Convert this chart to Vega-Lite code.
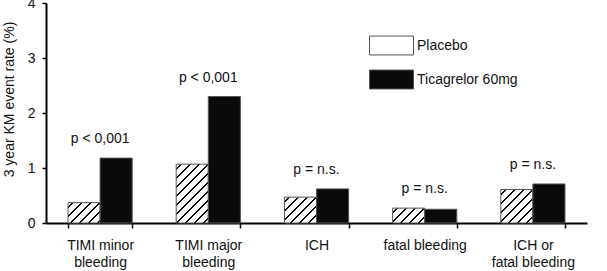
{
  "$schema": "https://vega.github.io/schema/vega-lite/v6.json",
  "autosize": "none",
  "width": 541,
  "height": 220,
  "padding": {"left": 46, "top": 3, "right": 20, "bottom": 48},
  "background": "white",
  "config": {
    "font": "Liberation Sans",
    "view": {"stroke": null},
    "axis": {"labelFont": "Liberation Sans", "titleFont": "Liberation Sans", "labelColor": "#111", "titleColor": "#111", "domainColor": "#000", "tickColor": "#000", "grid": false}
  },
  "data": {
    "values": [
      {"cat": "TIMI minor\nbleeding", "group": "Placebo", "value": 0.37, "p": "p < 0,001"},
      {"cat": "TIMI minor\nbleeding", "group": "Ticagrelor 60mg", "value": 1.18, "p": "p < 0,001"},
      {"cat": "TIMI major\nbleeding", "group": "Placebo", "value": 1.07, "p": "p < 0,001"},
      {"cat": "TIMI major\nbleeding", "group": "Ticagrelor 60mg", "value": 2.30, "p": "p < 0,001"},
      {"cat": "ICH", "group": "Placebo", "value": 0.47, "p": "p = n.s."},
      {"cat": "ICH", "group": "Ticagrelor 60mg", "value": 0.62, "p": "p = n.s."},
      {"cat": "fatal bleeding", "group": "Placebo", "value": 0.27, "p": "p = n.s."},
      {"cat": "fatal bleeding", "group": "Ticagrelor 60mg", "value": 0.25, "p": "p = n.s."},
      {"cat": "ICH or\nfatal bleeding", "group": "Placebo", "value": 0.61, "p": "p = n.s."},
      {"cat": "ICH or\nfatal bleeding", "group": "Ticagrelor 60mg", "value": 0.71, "p": "p = n.s."}
    ]
  },
  "encoding": {
    "x": {
      "field": "cat", "type": "nominal", "sort": null,
      "scale": {"paddingInner": 0.407, "paddingOuter": 0.2035},
      "axis": {
        "title": null, "labelAngle": 0, "labelFontSize": 14, "labelLineHeight": 17,
        "labelExpr": "isString(datum.value) ? split(datum.value, '\\n') : ''", "labelBaseline": "top",
        "domainWidth": 2, "tickBand": "extent", "tickSize": 5, "tickWidth": 1.5, "labelPadding": 10
      }
    }
  },
  "layer": [
    {
      "mark": {"type": "bar", "stroke": "#555", "strokeWidth": 1},
      "encoding": {
        "xOffset": {"field": "group", "type": "nominal", "scale": {"paddingInner": 0, "paddingOuter": 0}},
        "y": {
          "field": "value", "type": "quantitative",
          "scale": {"domain": [0, 4], "nice": false},
          "axis": {
            "title": "3 year KM event rate (%)", "titleFontSize": 14, "titleFontWeight": "normal",
            "values": [0, 1, 2, 3, 4], "format": "d", "labelFontSize": 14, "domainWidth": 2, "tickSize": 4, "tickWidth": 1.5,
            "labelPadding": 7, "titleX": -30, "titleY": 96
          }
        },
        "fill": {
          "field": "group", "type": "nominal",
          "scale": {"domain": ["Placebo", "Ticagrelor 60mg"], "range": ["#ffffff", "#0a0a0a"]},
          "legend": {
            "title": null, "orient": "none", "legendX": 323, "legendY": 20,
            "symbolType": "M-1,-0.43H1V0.43H-1Z", "symbolSize": 1936,
            "symbolStrokeColor": "#555", "symbolStrokeWidth": 1,
            "labelFontSize": 14, "labelColor": "#111", "labelOffset": 3, "rowPadding": -28,
            "encode": {"symbols": {"update": {
              "stroke": {"value": "#555"},
              "strokeWidth": {"value": 1}
            }}}
          },
          "condition": [
            {"test": "datum.group === 'Placebo' && datum.cat === 'TIMI minor\\nbleeding'", "value":
              {"gradient": "linear", "x1": 0, "y1": 0, "x2": 2.200, "y2": 1.395, "stops": [
                {"offset": 0, "color": "#fff"},
                {"offset": 0.0404, "color": "#fff"}, {"offset": 0.0404, "color": "#000"}, {"offset": 0.0606, "color": "#000"}, {"offset": 0.0606, "color": "#fff"},
                {"offset": 0.1313, "color": "#fff"}, {"offset": 0.1313, "color": "#000"}, {"offset": 0.1515, "color": "#000"}, {"offset": 0.1515, "color": "#fff"},
                {"offset": 0.2222, "color": "#fff"}, {"offset": 0.2222, "color": "#000"}, {"offset": 0.2424, "color": "#000"}, {"offset": 0.2424, "color": "#fff"},
                {"offset": 0.3131, "color": "#fff"}, {"offset": 0.3131, "color": "#000"}, {"offset": 0.3333, "color": "#000"}, {"offset": 0.3333, "color": "#fff"},
                {"offset": 0.4040, "color": "#fff"}, {"offset": 0.4040, "color": "#000"}, {"offset": 0.4242, "color": "#000"}, {"offset": 0.4242, "color": "#fff"},
                {"offset": 0.4949, "color": "#fff"}, {"offset": 0.4949, "color": "#000"}, {"offset": 0.5152, "color": "#000"}, {"offset": 0.5152, "color": "#fff"},
                {"offset": 0.5859, "color": "#fff"}, {"offset": 0.5859, "color": "#000"}, {"offset": 0.6061, "color": "#000"}, {"offset": 0.6061, "color": "#fff"},
                {"offset": 0.6768, "color": "#fff"}, {"offset": 0.6768, "color": "#000"}, {"offset": 0.6970, "color": "#000"}, {"offset": 0.6970, "color": "#fff"},
                {"offset": 0.7677, "color": "#fff"}, {"offset": 0.7677, "color": "#000"}, {"offset": 0.7879, "color": "#000"}, {"offset": 0.7879, "color": "#fff"},
                {"offset": 0.8586, "color": "#fff"}, {"offset": 0.8586, "color": "#000"}, {"offset": 0.8788, "color": "#000"}, {"offset": 0.8788, "color": "#fff"},
                {"offset": 0.9495, "color": "#fff"}, {"offset": 0.9495, "color": "#000"}, {"offset": 0.9697, "color": "#000"}, {"offset": 0.9697, "color": "#fff"},
                {"offset": 1, "color": "#fff"}
              ]}
            },
            {"test": "datum.group === 'Placebo' && datum.cat === 'TIMI major\\nbleeding'", "value":
              {"gradient": "linear", "x1": 0, "y1": 0, "x2": 0.7072, "y2": 1.2966, "stops": [
                {"offset": 0, "color": "#fff"},
                {"offset": 0.0404, "color": "#fff"}, {"offset": 0.0404, "color": "#000"}, {"offset": 0.0606, "color": "#000"}, {"offset": 0.0606, "color": "#fff"},
                {"offset": 0.1313, "color": "#fff"}, {"offset": 0.1313, "color": "#000"}, {"offset": 0.1515, "color": "#000"}, {"offset": 0.1515, "color": "#fff"},
                {"offset": 0.2222, "color": "#fff"}, {"offset": 0.2222, "color": "#000"}, {"offset": 0.2424, "color": "#000"}, {"offset": 0.2424, "color": "#fff"},
                {"offset": 0.3131, "color": "#fff"}, {"offset": 0.3131, "color": "#000"}, {"offset": 0.3333, "color": "#000"}, {"offset": 0.3333, "color": "#fff"},
                {"offset": 0.4040, "color": "#fff"}, {"offset": 0.4040, "color": "#000"}, {"offset": 0.4242, "color": "#000"}, {"offset": 0.4242, "color": "#fff"},
                {"offset": 0.4949, "color": "#fff"}, {"offset": 0.4949, "color": "#000"}, {"offset": 0.5152, "color": "#000"}, {"offset": 0.5152, "color": "#fff"},
                {"offset": 0.5859, "color": "#fff"}, {"offset": 0.5859, "color": "#000"}, {"offset": 0.6061, "color": "#000"}, {"offset": 0.6061, "color": "#fff"},
                {"offset": 0.6768, "color": "#fff"}, {"offset": 0.6768, "color": "#000"}, {"offset": 0.6970, "color": "#000"}, {"offset": 0.6970, "color": "#fff"},
                {"offset": 0.7677, "color": "#fff"}, {"offset": 0.7677, "color": "#000"}, {"offset": 0.7879, "color": "#000"}, {"offset": 0.7879, "color": "#fff"},
                {"offset": 0.8586, "color": "#fff"}, {"offset": 0.8586, "color": "#000"}, {"offset": 0.8788, "color": "#000"}, {"offset": 0.8788, "color": "#fff"},
                {"offset": 0.9495, "color": "#fff"}, {"offset": 0.9495, "color": "#000"}, {"offset": 0.9697, "color": "#000"}, {"offset": 0.9697, "color": "#fff"},
                {"offset": 1, "color": "#fff"}
              ]}
            },
            {"test": "datum.group === 'Placebo' && datum.cat === 'ICH'", "value":
              {"gradient": "linear", "x1": 0, "y1": 0, "x2": 1.871, "y2": 1.5066, "stops": [
                {"offset": 0, "color": "#fff"},
                {"offset": 0.0404, "color": "#fff"}, {"offset": 0.0404, "color": "#000"}, {"offset": 0.0606, "color": "#000"}, {"offset": 0.0606, "color": "#fff"},
                {"offset": 0.1313, "color": "#fff"}, {"offset": 0.1313, "color": "#000"}, {"offset": 0.1515, "color": "#000"}, {"offset": 0.1515, "color": "#fff"},
                {"offset": 0.2222, "color": "#fff"}, {"offset": 0.2222, "color": "#000"}, {"offset": 0.2424, "color": "#000"}, {"offset": 0.2424, "color": "#fff"},
                {"offset": 0.3131, "color": "#fff"}, {"offset": 0.3131, "color": "#000"}, {"offset": 0.3333, "color": "#000"}, {"offset": 0.3333, "color": "#fff"},
                {"offset": 0.4040, "color": "#fff"}, {"offset": 0.4040, "color": "#000"}, {"offset": 0.4242, "color": "#000"}, {"offset": 0.4242, "color": "#fff"},
                {"offset": 0.4949, "color": "#fff"}, {"offset": 0.4949, "color": "#000"}, {"offset": 0.5152, "color": "#000"}, {"offset": 0.5152, "color": "#fff"},
                {"offset": 0.5859, "color": "#fff"}, {"offset": 0.5859, "color": "#000"}, {"offset": 0.6061, "color": "#000"}, {"offset": 0.6061, "color": "#fff"},
                {"offset": 0.6768, "color": "#fff"}, {"offset": 0.6768, "color": "#000"}, {"offset": 0.6970, "color": "#000"}, {"offset": 0.6970, "color": "#fff"},
                {"offset": 0.7677, "color": "#fff"}, {"offset": 0.7677, "color": "#000"}, {"offset": 0.7879, "color": "#000"}, {"offset": 0.7879, "color": "#fff"},
                {"offset": 0.8586, "color": "#fff"}, {"offset": 0.8586, "color": "#000"}, {"offset": 0.8788, "color": "#000"}, {"offset": 0.8788, "color": "#fff"},
                {"offset": 0.9495, "color": "#fff"}, {"offset": 0.9495, "color": "#000"}, {"offset": 0.9697, "color": "#000"}, {"offset": 0.9697, "color": "#fff"},
                {"offset": 1, "color": "#fff"}
              ]}
            },
            {"test": "datum.group === 'Placebo' && datum.cat === 'fatal bleeding'", "value":
              {"gradient": "linear", "x1": 0, "y1": 0, "x2": 2.5405, "y2": 1.1753, "stops": [
                {"offset": 0, "color": "#fff"},
                {"offset": 0.0404, "color": "#fff"}, {"offset": 0.0404, "color": "#000"}, {"offset": 0.0606, "color": "#000"}, {"offset": 0.0606, "color": "#fff"},
                {"offset": 0.1313, "color": "#fff"}, {"offset": 0.1313, "color": "#000"}, {"offset": 0.1515, "color": "#000"}, {"offset": 0.1515, "color": "#fff"},
                {"offset": 0.2222, "color": "#fff"}, {"offset": 0.2222, "color": "#000"}, {"offset": 0.2424, "color": "#000"}, {"offset": 0.2424, "color": "#fff"},
                {"offset": 0.3131, "color": "#fff"}, {"offset": 0.3131, "color": "#000"}, {"offset": 0.3333, "color": "#000"}, {"offset": 0.3333, "color": "#fff"},
                {"offset": 0.4040, "color": "#fff"}, {"offset": 0.4040, "color": "#000"}, {"offset": 0.4242, "color": "#000"}, {"offset": 0.4242, "color": "#fff"},
                {"offset": 0.4949, "color": "#fff"}, {"offset": 0.4949, "color": "#000"}, {"offset": 0.5152, "color": "#000"}, {"offset": 0.5152, "color": "#fff"},
                {"offset": 0.5859, "color": "#fff"}, {"offset": 0.5859, "color": "#000"}, {"offset": 0.6061, "color": "#000"}, {"offset": 0.6061, "color": "#fff"},
                {"offset": 0.6768, "color": "#fff"}, {"offset": 0.6768, "color": "#000"}, {"offset": 0.6970, "color": "#000"}, {"offset": 0.6970, "color": "#fff"},
                {"offset": 0.7677, "color": "#fff"}, {"offset": 0.7677, "color": "#000"}, {"offset": 0.7879, "color": "#000"}, {"offset": 0.7879, "color": "#fff"},
                {"offset": 0.8586, "color": "#fff"}, {"offset": 0.8586, "color": "#000"}, {"offset": 0.8788, "color": "#000"}, {"offset": 0.8788, "color": "#fff"},
                {"offset": 0.9495, "color": "#fff"}, {"offset": 0.9495, "color": "#000"}, {"offset": 0.9697, "color": "#000"}, {"offset": 0.9697, "color": "#fff"},
                {"offset": 1, "color": "#fff"}
              ]}
            },
            {"test": "datum.group === 'Placebo' && datum.cat === 'ICH or\\nfatal bleeding'", "value":
              {"gradient": "linear", "x1": 0, "y1": 0, "x2": 1.474, "y2": 1.5405, "stops": [
                {"offset": 0, "color": "#fff"},
                {"offset": 0.0404, "color": "#fff"}, {"offset": 0.0404, "color": "#000"}, {"offset": 0.0606, "color": "#000"}, {"offset": 0.0606, "color": "#fff"},
                {"offset": 0.1313, "color": "#fff"}, {"offset": 0.1313, "color": "#000"}, {"offset": 0.1515, "color": "#000"}, {"offset": 0.1515, "color": "#fff"},
                {"offset": 0.2222, "color": "#fff"}, {"offset": 0.2222, "color": "#000"}, {"offset": 0.2424, "color": "#000"}, {"offset": 0.2424, "color": "#fff"},
                {"offset": 0.3131, "color": "#fff"}, {"offset": 0.3131, "color": "#000"}, {"offset": 0.3333, "color": "#000"}, {"offset": 0.3333, "color": "#fff"},
                {"offset": 0.4040, "color": "#fff"}, {"offset": 0.4040, "color": "#000"}, {"offset": 0.4242, "color": "#000"}, {"offset": 0.4242, "color": "#fff"},
                {"offset": 0.4949, "color": "#fff"}, {"offset": 0.4949, "color": "#000"}, {"offset": 0.5152, "color": "#000"}, {"offset": 0.5152, "color": "#fff"},
                {"offset": 0.5859, "color": "#fff"}, {"offset": 0.5859, "color": "#000"}, {"offset": 0.6061, "color": "#000"}, {"offset": 0.6061, "color": "#fff"},
                {"offset": 0.6768, "color": "#fff"}, {"offset": 0.6768, "color": "#000"}, {"offset": 0.6970, "color": "#000"}, {"offset": 0.6970, "color": "#fff"},
                {"offset": 0.7677, "color": "#fff"}, {"offset": 0.7677, "color": "#000"}, {"offset": 0.7879, "color": "#000"}, {"offset": 0.7879, "color": "#fff"},
                {"offset": 0.8586, "color": "#fff"}, {"offset": 0.8586, "color": "#000"}, {"offset": 0.8788, "color": "#000"}, {"offset": 0.8788, "color": "#fff"},
                {"offset": 0.9495, "color": "#fff"}, {"offset": 0.9495, "color": "#000"}, {"offset": 0.9697, "color": "#000"}, {"offset": 0.9697, "color": "#fff"},
                {"offset": 1, "color": "#fff"}
              ]}
            }
          ]
        }
      }
    },
    {
      "mark": {"type": "text", "fontSize": 14, "color": "#111", "dy": -19, "baseline": "middle"},
      "encoding": {
        "y": {"aggregate": "max", "field": "value", "type": "quantitative"},
        "text": {"field": "p", "type": "nominal"}
      }
    }
  ]
}
